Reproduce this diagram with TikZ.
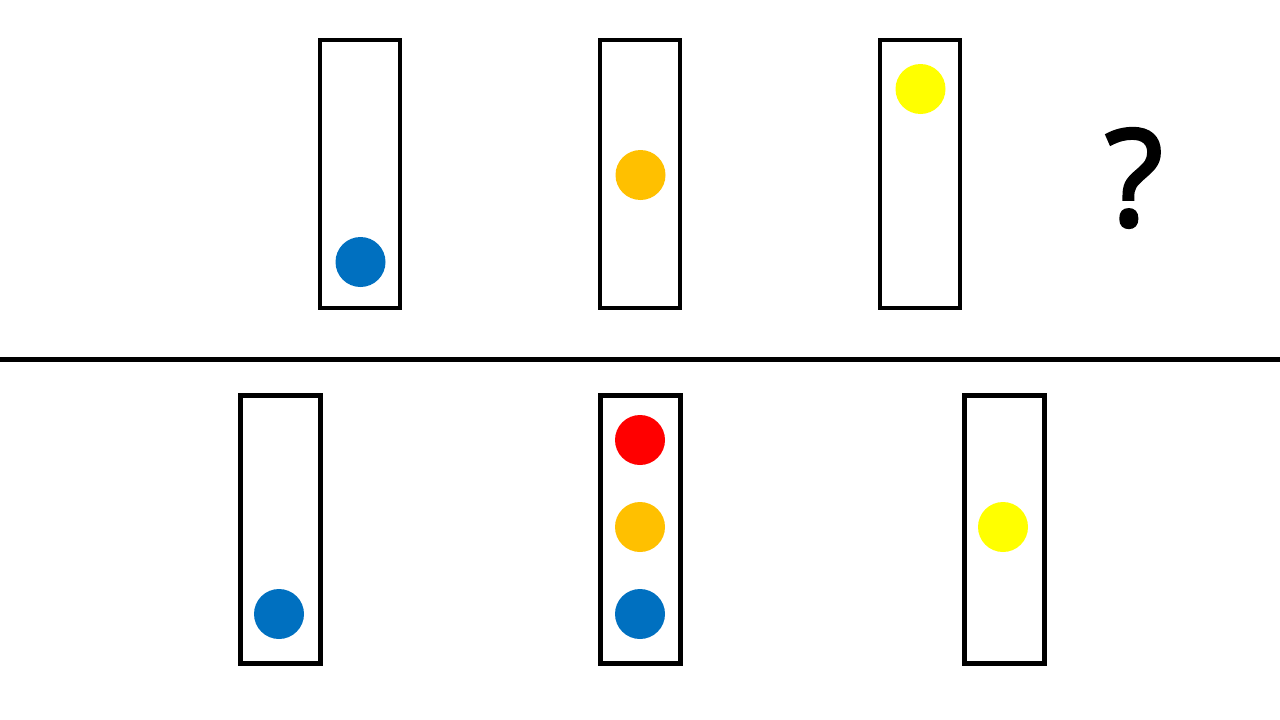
\documentclass[tikz,border=0pt]{standalone}
\usepackage{fontspec}
\newfontfamily\qfont[FakeBold=2.5]{Open Sans}
\definecolor{ballblue}{HTML}{0070C0}
\definecolor{ballorange}{HTML}{FFC000}
\definecolor{ballyellow}{HTML}{FFFF00}
\definecolor{ballred}{HTML}{FF0000}
\begin{document}
\begin{tikzpicture}[x=1pt,y=-1pt]
    \useasboundingbox (0,0) rectangle (1280,720);

    % top row
    \foreach \x/\y/\col in {320/262/ballblue, 600/175/ballorange, 880/89/ballyellow}
    {
        \draw[line width=3.5pt] (\x,40) rectangle (\x+80,308);
        \fill[\col] (\x+40.5,\y) circle (25);
    }
    \node[font=\qfont\fontsize{134}{134}\selectfont, inner sep=0pt] (question) at (1134,178) {?};

    \draw[line width=5pt] (0,359) -- (1280,359);

    % bottom row
    \foreach \x in {240, 600, 964}
        \draw[line width=5pt] (\x,395) rectangle (\x+80,663);
    \foreach \x/\y/\col in {279/614/ballblue, 640/440/ballred, 640/527/ballorange,
                            640/614/ballblue, 1003/527/ballyellow}
        \fill[\col] (\x,\y) circle (25);
\end{tikzpicture}
\end{document}
